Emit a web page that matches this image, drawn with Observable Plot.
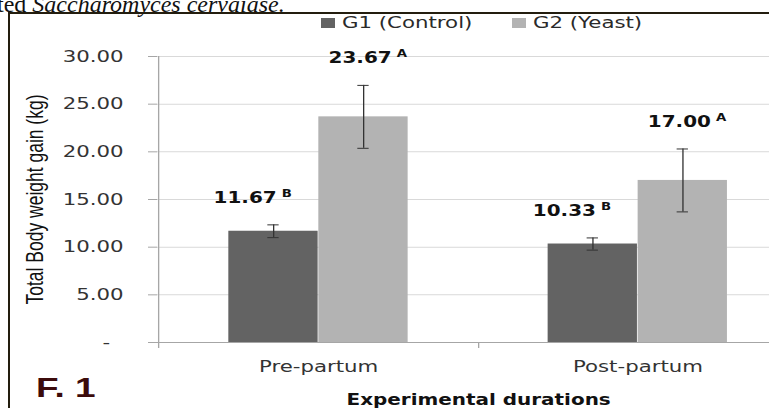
<!DOCTYPE html>
<html>
<head>
<meta charset="utf-8">
<script src="https://cdn.jsdelivr.net/npm/d3@7"></script>
<script src="https://cdn.jsdelivr.net/npm/@observablehq/plot@0.6"></script>
<style>
  html, body { margin: 0; padding: 0; background: #fff; }
  #wrap { position: relative; width: 769px; height: 408px; overflow: hidden; background: #fff; }
  #caption { position: absolute; left: -3px; top: -8px; font: 24px/24px "Liberation Serif", serif; color: #111; white-space: nowrap; }
  .border { position: absolute; background: #231d0e; }
  #chart { position: absolute; left: 0; top: 0; }
  .leg { position: absolute; font: 16px/16px "DejaVu Sans", sans-serif; color: #2a2a2a; white-space: nowrap; transform-origin: 0 0; }
  .sw { position: absolute; width: 14px; height: 10px; }
  #fig { position: absolute; left: 36px; top: 374px; font: bold 28px/28px "Liberation Sans", Arial, sans-serif; color: #3c0b0b; transform: scaleX(1.32); transform-origin: 0 0; white-space: nowrap; }
</style>
</head>
<body>
<div id="wrap">
  <div id="caption">ted <i>Saccharomyces cervaiase.</i></div>
  <div id="chart"></div>
  <div class="border" style="left:8px; top:12px; width:761px; height:2px;"></div>
  <div class="border" style="left:8px; top:12px; width:2px; height:396px;"></div>
  <div id="legend"></div>
  <div id="fig">F. 1</div>
</div>
<script>
// ---- data ----
const durations = ["Pre-partum", "Post-partum"];
const groups = ["G1 (Control)", "G2 (Yeast)"];
const g1Means = [11.67, 10.33];
const g1Errors = [0.67, 0.64];
const g1Letters = ["B", "B"];
const g2Means = [23.67, 17.00];
const g2Errors = [3.30, 3.30];
const g2Letters = ["A", "A"];
const yTicks = [0, 5, 10, 15, 20, 25, 30];
const yLabel = "Total Body weight gain (kg)";
const xLabel = "Experimental durations";
const colors = ["#636363", "#b3b3b3"];

// ---- geometry helpers (the figure is horizontally stretched) ----
const S = 769 / 578;
const px = v => v / S;
const step = px(320);
const barW = px(90);
const off = px(45);
const capW = px(12);

const rows1 = durations.map((d, i) => ({duration: d, mean: g1Means[i], err: g1Errors[i], letter: g1Letters[i]}));
const rows2 = durations.map((d, i) => ({duration: d, mean: g2Means[i], err: g2Errors[i], letter: g2Letters[i]}));

function seriesMarks(rows, color, sign, numDx, letDx) {
  const bi = (step - barW) / 2;
  const ci = (step - capW) / 2;
  return [
    Plot.barY(rows, {x: "duration", y: "mean", fill: color, dx: sign * off, insetLeft: bi, insetRight: bi}),
    Plot.ruleX(rows, {x: "duration", y1: d => d.mean - d.err, y2: d => d.mean + d.err, dx: sign * off, stroke: "#333", strokeWidth: 1}),
    Plot.tickY(rows, {x: "duration", y: d => d.mean + d.err, dx: sign * off, insetLeft: ci, insetRight: ci, stroke: "#333"}),
    Plot.tickY(rows, {x: "duration", y: d => d.mean - d.err, dx: sign * off, insetLeft: ci, insetRight: ci, stroke: "#333"}),
    Plot.text(rows, {x: "duration", y: d => d.mean + d.err, text: d => d.mean.toFixed(2), textAnchor: "end", lineAnchor: "bottom",
      dx: numDx, dy: -22, fontWeight: "bold", fontSize: 15, fontFamily: "DejaVu Sans", fill: "#111"}),
    Plot.text(rows, {x: "duration", y: d => d.mean + d.err, text: "letter", textAnchor: "start", lineAnchor: "bottom",
      dx: letDx, dy: -28, fontWeight: "bold", fontSize: 10, fontFamily: "DejaVu Sans", fill: "#111"})
  ];
}

const chart = Plot.plot({
  width: 578,
  height: 408,
  marginLeft: px(157),
  marginRight: 0,
  marginTop: 56,
  marginBottom: 66,
  x: {domain: durations, range: [px(157), px(797)], padding: 0},
  y: {domain: [0, 30]},
  style: {background: "transparent", fontFamily: "DejaVu Sans", fontSize: "16px", color: "#404040", overflow: "hidden"},
  marks: [
    Plot.gridY(yTicks.filter(d => d > 0), {stroke: "#d9d9d9", strokeOpacity: 1}),
    ...seriesMarks(rows1, colors[0], -1, px(-45 + 3), px(-45 + 8)),
    ...seriesMarks(rows2, colors[1], +1, px(45 + 28), px(45 + 33)),
    Plot.ruleY([0], {stroke: "#a6a6a6"}),
    Plot.ruleX([durations[0]], {x: d => d, dx: -step / 2, y1: 30, y2: 0, insetBottom: -6, stroke: "#a6a6a6"}),
    Plot.ruleX(durations, {x: d => d, dx: step / 2, y1: 0, y2: 0, insetBottom: -6, stroke: "#a6a6a6"}),
    Plot.axisY({ticks: yTicks, tickSize: px(9), tickPadding: px(25), stroke: "#a6a6a6", fill: "#333", fontSize: 16,
      tickFormat: d => d === 0 ? "-\u00a0\u00a0" : d.toFixed(2), label: null}),
    Plot.axisX({tickSize: 0, tickPadding: 18, fill: "#333", fontSize: 16, label: null}),
    Plot.text([xLabel], {x: () => durations[0], dx: step / 2, frameAnchor: "bottom", dy: 52, lineAnchor: "top",
      fontWeight: "bold", fontSize: 15, fontFamily: "DejaVu Sans", fill: "#111"}),
    Plot.text([yLabel], {frameAnchor: "left", dx: -(px(157) - px(35)), rotate: -90, textAnchor: "middle", lineAnchor: "middle",
      fontSize: 17.5, fontFamily: "Liberation Sans", fill: "#111"})
  ]
});
chart.setAttribute("preserveAspectRatio", "none");
chart.style.width = "769px";
chart.style.height = "408px";
chart.style.maxWidth = "none";
document.getElementById("chart").appendChild(chart);

// ---- legend (HTML) ----
const legend = document.getElementById("legend");
const legPos = [{sw: 321, tx: 342}, {sw: 512, tx: 533}];
groups.forEach((g, i) => {
  const sw = document.createElement("div");
  sw.className = "sw";
  sw.style.left = legPos[i].sw + "px";
  sw.style.top = "18px";
  sw.style.background = colors[i];
  legend.appendChild(sw);
  const t = document.createElement("div");
  t.className = "leg";
  t.textContent = g;
  t.style.left = legPos[i].tx + "px";
  t.style.top = "15px";
  t.style.transform = `scaleX(${S})`;
  legend.appendChild(t);
});
</script>
</body>
</html>
